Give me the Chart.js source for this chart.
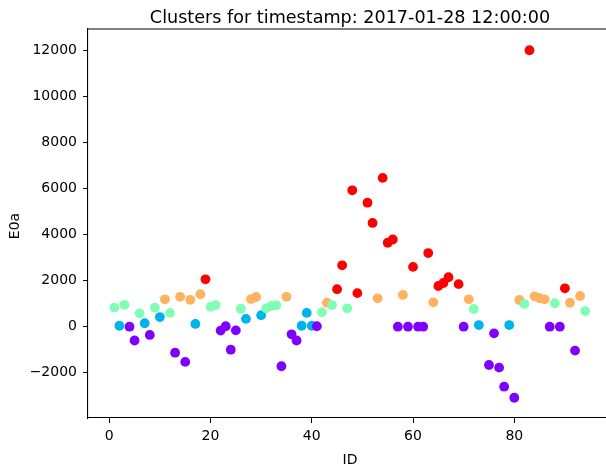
<!DOCTYPE html>
<html><head><meta charset="utf-8">
<script src="https://cdn.jsdelivr.net/npm/chart.js@4/dist/chart.umd.min.js"></script>
<style>html,body{margin:0;padding:0;background:#fff;overflow:hidden;width:606px;height:464px}canvas{display:block}</style>
</head><body>
<canvas id="c" width="620" height="464" style="width:620px;height:464px"></canvas>
<script>
const chartTitle = 'Clusters for timestamp: 2017-01-28 12:00:00';
const xLabel = 'ID';
const yLabel = 'E0a';
const ids = [1,2,3,4,5,6,7,8,9,10,11,12,13,14,15,16,17,18,19,20,21,22,23,24,25,26,27,28,29,30,31,32,33,34,35,36,37,38,39,40,41,42,43,44,45,46,47,48,49,51,52,53,54,55,56,57,58,59,60,61,62,63,64,65,66,67,69,70,71,72,73,75,76,77,78,79,80,81,82,83,84,85,86,87,88,89,90,91,92,93,94];
const values = [830,40,950,0,-600,580,150,-360,830,420,1190,600,-1130,1300,-1530,1170,120,1410,2060,860,940,-170,20,-1000,-160,780,340,1200,1290,500,800,900,930,-1720,1300,-330,-600,40,600,40,20,630,1040,940,1630,2670,800,5930,1460,5390,4510,1235,6470,3650,3790,0,1380,0,2600,0,0,3200,1060,1770,1900,2150,1850,0,1190,770,70,-1665,-290,-1780,-2610,70,-3090,1160,990,12020,1320,1240,1190,0,1020,0,1670,1040,-1040,1335,680];
const clusters = [2,1,2,0,0,2,1,0,2,1,3,2,0,3,0,3,1,3,4,2,2,0,0,0,0,2,1,3,3,1,2,2,2,0,3,0,0,1,1,1,0,2,3,2,4,4,2,4,4,4,4,3,4,4,4,0,3,0,4,0,0,4,3,4,4,4,4,0,3,2,1,0,0,0,0,1,0,3,2,4,3,3,3,0,2,0,4,3,0,3,2];
const clusterColors = ['#8000ff','#00b4eb','#80ffb4','#ffb360','#ff0000'];
const xTicks = [0,20,40,60,80];
const yTicks = [-2000,0,2000,4000,6000,8000,10000,12000];

const points = ids.map((id,i)=>({x:id,y:values[i]}));
const colors = clusters.map(c=>clusterColors[c]);
const FONT = '"DejaVu Sans", sans-serif';

const textPlugin = {
  id:'texts',
  afterDraw(chart){
    const ctx = chart.ctx, a = chart.chartArea;
    ctx.save();
    ctx.fillStyle = '#000';
    ctx.font = '17.6px ' + FONT;
    ctx.textAlign = 'center';
    ctx.textBaseline = 'alphabetic';
    ctx.fillText(chartTitle, (a.left+a.right)/2, 22.5);
    ctx.font = '14px ' + FONT;
    ctx.fillText(xLabel, (a.left+a.right)/2, 464);
    ctx.translate(19, 226);
    ctx.rotate(-Math.PI/2);
    ctx.fillText(yLabel, 0, 0);
    ctx.restore();
  }
};

new Chart(document.getElementById('c'), {
  type:'scatter',
  data:{datasets:[{
    data:points,
    pointBackgroundColor:colors,
    pointBorderColor:colors,
    pointBorderWidth:0,
    pointRadius:4.9,
    pointHoverRadius:4.9
  }]},
  options:{
    responsive:false,
    animation:false,
    devicePixelRatio:1,
    layout:{padding:{top:29,right:8,left:0,bottom:0}},
    plugins:{legend:{display:false},title:{display:false},tooltip:{enabled:false}},
    scales:{
      x:{
        type:'linear', min:-4.2, max:99.3,
        afterBuildTicks(s){ s.ticks = xTicks.map(v=>({value:v})); },
        afterFit(s){ s.height = 46; },
        grid:{drawOnChartArea:false, drawTicks:true, tickLength:5, color:'#000', tickWidth:1},
        border:{display:true, color:'#000', width:1.1},
        ticks:{color:'#000', font:{family:FONT, size:14}, padding:5, maxRotation:0, autoSkip:false}
      },
      y:{
        type:'linear', min:-3970, max:12943,
        afterBuildTicks(s){ s.ticks = yTicks.map(v=>({value:v})); },
        afterFit(s){ s.width = 88; },
        grid:{drawOnChartArea:false, drawTicks:true, tickLength:5, color:'#000', tickWidth:1},
        border:{display:true, color:'#000', width:1.1},
        ticks:{color:'#000', font:{family:FONT, size:14}, padding:6, autoSkip:false,
          callback:(v)=> (v<0?'\u2212':'') + Math.abs(v)}
      }
    }
  },
  plugins:[textPlugin, {
    id:'topBorder',
    afterDraw(chart){
      const ctx=chart.ctx,a=chart.chartArea;
      ctx.save();ctx.strokeStyle='#000';ctx.lineWidth=1.1;
      ctx.beginPath();ctx.moveTo(a.left,a.top);ctx.lineTo(a.right,a.top);ctx.lineTo(a.right,a.bottom);ctx.stroke();
      ctx.restore();
    }
  }]
});
</script>
</body></html>
